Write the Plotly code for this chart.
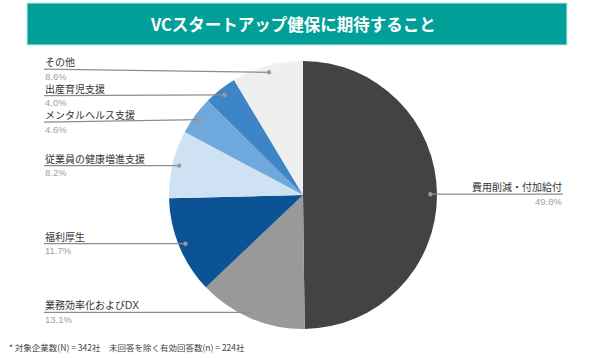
import math
import plotly.graph_objects as go

# ---- data ----
categories = ["費用削減・付加給付", "業務効率化およびDX", "福利厚生", "従業員の健康増進支援",
              "メンタルヘルス支援", "出産育児支援", "その他"]
values = [49.8, 13.1, 11.7, 8.2, 4.6, 4.0, 8.6]
colors = ["#434343", "#999999", "#0b5394", "#cfe2f3", "#6fa8dc", "#3d85c6", "#efefef"]
title_text = "VCスタートアップ健保に期待すること"
footnote = "* 対象企業数(N) = 342社　未回答を除く有効回答数(n) = 224社"

# ---- layout constants (pixels) ----
W, H = 590, 358
CX, CY, R = 303, 195, 134
FONT = "Noto Sans CJK JP"
NAME_FONT = "Liberation Sans, Noto Sans CJK JP"
PCT_FONT = "Liberation Sans, Arial"
LEFT_X = 44
RIGHT_X = 563
MIN_GAP = 26.5

def px(x):
    return x / W

def py(y):
    return 1 - y / H

fig = go.Figure()
fig.add_trace(go.Pie(
    labels=categories, values=values, sort=False, direction="clockwise", rotation=0,
    marker=dict(colors=colors, line=dict(width=0)),
    textinfo="none", hoverinfo="label+percent", showlegend=False,
    domain=dict(x=[px(CX - R), px(CX + R)], y=[py(CY + R), py(CY - R)]),
))

# dot positions from the data
total = sum(values)
cum = 0.0
items = []
for name, v in zip(categories, values):
    mid = (cum + v / 2) / total * 2 * math.pi
    cum += v
    dx = CX + 0.95 * R * math.sin(mid)
    dy = CY - 0.95 * R * math.cos(mid)
    items.append(dict(name=name, v=v, dx=dx, dy=dy, right=math.sin(mid) > 0))

# label y positions: minimum spacing per side, clusters centred on their dots
for side in (True, False):
    group = sorted([it for it in items if it["right"] == side], key=lambda it: it["dy"])
    clusters = []
    for it in group:
        if clusters and it["dy"] < clusters[-1][-1]["ly"] + MIN_GAP:
            it["ly"] = clusters[-1][-1]["ly"] + MIN_GAP
            clusters[-1].append(it)
        else:
            it["ly"] = it["dy"]
            clusters.append([it])
    for cl in clusters:
        shift = sum(c["ly"] - c["dy"] for c in cl) / len(cl)
        for c in cl:
            c["ly"] -= shift

shapes = []
annotations = []
for it in items:
    right = it["right"]
    tx = RIGHT_X if right else LEFT_X
    anchor = "right" if right else "left"
    ly = it["ly"]
    shapes.append(dict(type="line", xref="paper", yref="paper",
                       x0=px(tx), x1=px(it["dx"]), y0=py(ly), y1=py(it["dy"]),
                       line=dict(color="#8c8c8c", width=1.2)))
    shapes.append(dict(type="circle", xref="paper", yref="paper",
                       x0=px(it["dx"] - 2.2), x1=px(it["dx"] + 2.2),
                       y0=py(it["dy"] + 2.2), y1=py(it["dy"] - 2.2),
                       fillcolor="#9a9a9a", line=dict(width=0)))
    annotations.append(dict(xref="paper", yref="paper", x=px(tx), y=py(ly),
                            text=it["name"], showarrow=False, xanchor=anchor, yanchor="bottom",
                            font=dict(family=NAME_FONT, size=10, color="#333333"),
                            borderpad=0, align=anchor))
    annotations.append(dict(xref="paper", yref="paper", x=px(tx), y=py(ly + 0.5),
                            text=f"{it['v']:.1f}%", showarrow=False, xanchor=anchor, yanchor="top",
                            font=dict(family=PCT_FONT, size=9.5, color="#a0a0a0"),
                            borderpad=0, align=anchor))

# title banner
shapes.append(dict(type="rect", xref="paper", yref="paper",
                   x0=px(27), x1=px(567), y0=py(45), y1=py(3),
                   fillcolor="#00a099", line=dict(color="#cfe9e7", width=1), layer="below"))
annotations.append(dict(xref="paper", yref="paper", x=px(293), y=py(24),
                        text=f"<b>{title_text}</b>", showarrow=False,
                        xanchor="center", yanchor="middle",
                        font=dict(family=FONT, size=16.5, color="white")))
annotations.append(dict(xref="paper", yref="paper", x=px(7), y=py(347),
                        text=footnote, showarrow=False, xanchor="left", yanchor="middle",
                        font=dict(family=FONT, size=8.5, color="#444444")))

fig.update_layout(width=W, height=H, margin=dict(l=0, r=0, t=0, b=0),
                  paper_bgcolor="white", plot_bgcolor="white",
                  shapes=shapes, annotations=annotations)
fig.write_html("out.html")
